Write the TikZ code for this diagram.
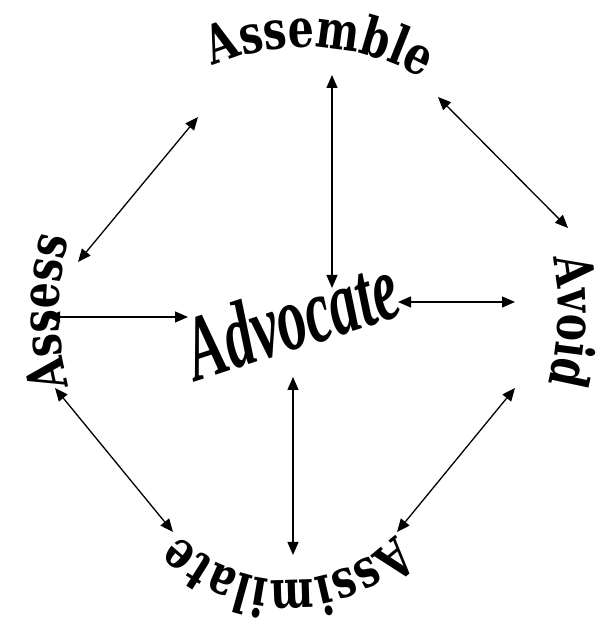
\documentclass[tikz,border=0pt]{standalone}
\usepackage{fontspec}
\usepackage{graphicx}
\usetikzlibrary{arrows.meta, decorations.text}
\newfontfamily\ringfont{DejaVu Serif}
\newfontfamily\hubfont{Liberation Serif}
\newcommand{\ringsize}{\ringfont\bfseries\fontsize{41pt}{41pt}\selectfont}
\newcommand{\hubsize}{\hubfont\bfseries\itshape\fontsize{58pt}{58pt}\selectfont}
\tikzset{
  link/.style={line width=1.3pt, {Triangle[length=13pt,width=11pt]}-{Triangle[length=13pt,width=11pt]}},
  ringword/.style={decorate, font=\ringsize,
    decoration={text effects along path, text={#1}, text align=center,
      text effects/.cd, text along path, characters={font=\ringsize, yscale=1.3}}}
}

\begin{document}
\begin{tikzpicture}[x=1pt, y=1pt]
  \useasboundingbox (0,0) rectangle (605,629);

  % Ring words
  \path[ringword=Assemble] (306,317) ++(127:247 and 265) arc[start angle=127, end angle=47, x radius=247, y radius=265];
  \path[ringword=Avoid] (306,317) ++(38:252 and 265) arc[start angle=38, end angle=-42, x radius=252, y radius=265];
  \path[ringword=Assimilate] (287,199) ++(340:150) arc[start angle=340, end angle=200, radius=150];
  \path[ringword=Assess] (306,317) ++(220:247 and 265) arc[start angle=220, end angle=140, x radius=247, y radius=265];

  % Centre word
  \node[rotate=18, anchor=base, inner sep=0pt, font=\hubsize] (advocate) at (301,281) {\scalebox{1}[1.6]{Advocate}};

  % Link ends
  \coordinate (asb-s) at (332,554);
  \coordinate (adv-n) at (332,341);
  \coordinate (adv-s) at (293,252);
  \coordinate (asm-n) at (293,74);
  \coordinate (adv-e) at (398,327);
  \coordinate (avd-w) at (515,327);
  \coordinate (ass-e) at (47,312);
  \coordinate (adv-w) at (188,312);
  \coordinate (ass-ne) at (78,367);
  \coordinate (asb-sw) at (198,512);
  \coordinate (asb-se) at (438,532);
  \coordinate (avd-nw) at (568,401);
  \coordinate (ass-se) at (55,241);
  \coordinate (asm-nw) at (173,97);
  \coordinate (avd-sw) at (515,241);
  \coordinate (asm-ne) at (397,97);

  % Links
  \draw[link] (asb-s) -- (adv-n);
  \draw[link] (adv-s) -- (asm-n);
  \draw[link] (adv-e) -- (avd-w);
  \draw[link] (ass-e) -- (adv-w);
  \draw[link] (ass-ne) -- (asb-sw);
  \draw[link] (asb-se) -- (avd-nw);
  \draw[link] (ass-se) -- (asm-nw);
  \draw[link] (avd-sw) -- (asm-ne);

\end{tikzpicture}
\end{document}
